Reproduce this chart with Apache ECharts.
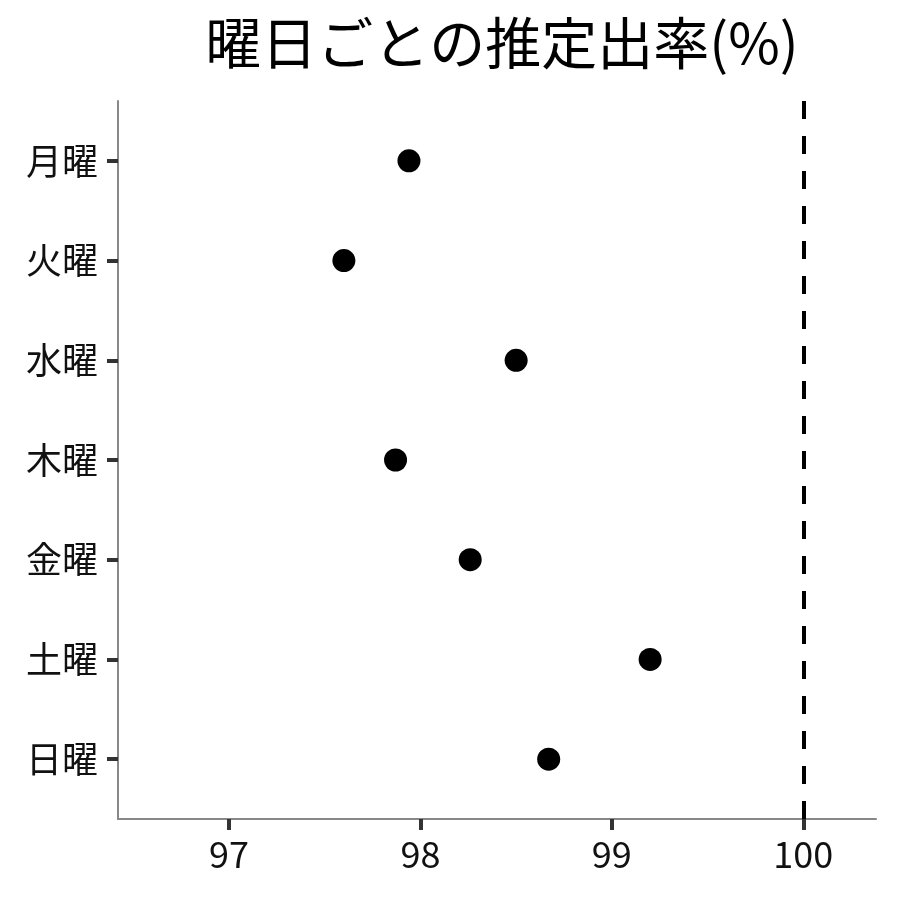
<!DOCTYPE html>
<html>
<head>
<meta charset="utf-8">
<script src="https://cdn.jsdelivr.net/npm/echarts@6/dist/echarts.min.js"></script>
<style>
  html, body { margin: 0; padding: 0; background: #fff; }
  #chart { width: 900px; height: 900px; }
</style>
</head>
<body>
<div id="chart"></div>
<script>
// days from top to bottom
const days = ["月曜", "火曜", "水曜", "木曜", "金曜", "土曜", "日曜"];
const rates = [97.94, 97.60, 98.50, 97.87, 98.26, 99.20, 98.67];
const xTicks = [97, 98, 99, 100];
const refLine = 100;

const font = "Noto Sans CJK JP";
const chart = echarts.init(document.getElementById("chart"));
const dayIdx = days.map((d, i) => i);

const option = {
  backgroundColor: "#fff",
  animation: false,
  title: {
    text: "曜日ごとの推定出率(%)",
    left: 497,
    textAlign: "center",
    top: 10,
    textStyle: { fontFamily: font, fontSize: 56, fontWeight: "normal", color: "#000" }
  },
  grid: { left: 118, right: 24, top: 101, bottom: 81 },
  xAxis: {
    type: "value",
    min: 96.42,
    max: 100.38,
    splitLine: { show: false },
    axisLine: { show: true, onZero: false, lineStyle: { color: "#888", width: 2 } },
    axisTick: { show: true, length: 11, customValues: xTicks, lineStyle: { color: "#333", width: 4 } },
    axisLabel: {
      customValues: xTicks,
      margin: 17,
      fontFamily: font, fontSize: 36, color: "#111"
    }
  },
  yAxis: {
    type: "value",
    inverse: true,
    min: -0.6,
    max: 6.6,
    splitLine: { show: false },
    axisLine: { show: true, onZero: false, lineStyle: { color: "#888", width: 2 } },
    axisTick: { show: true, length: 11, customValues: dayIdx, lineStyle: { color: "#333", width: 4 } },
    axisLabel: {
      customValues: dayIdx,
      formatter: (v) => days[Math.round(v)],
      margin: 20,
      fontFamily: font, fontSize: 36, color: "#111"
    }
  },
  series: [
    {
      type: "scatter",
      data: rates.map((r, i) => [r, i]),
      symbolSize: 23,
      itemStyle: { color: "#000", opacity: 1 },
      markLine: {
        silent: true,
        symbol: "none",
        label: { show: false },
        lineStyle: { color: "#000", width: 4, type: [18, 17] },
        data: [{ xAxis: refLine }]
      }
    }
  ]
};

chart.setOption(option);
window.addEventListener("resize", () => {
  chart.resize();
});
</script>
</body>
</html>
